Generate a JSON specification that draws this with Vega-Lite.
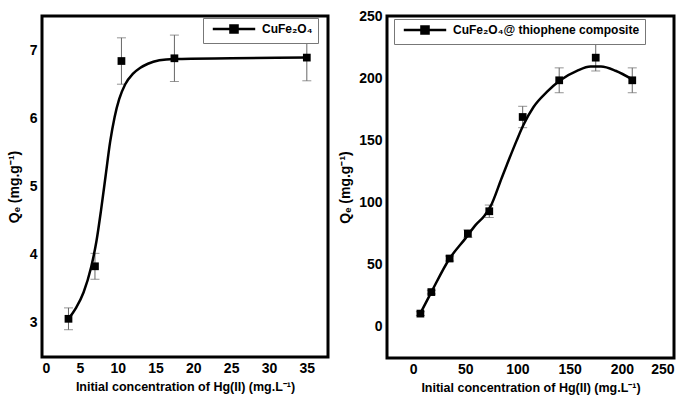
{
  "$schema": "https://vega.github.io/schema/vega-lite/v6.json",
  "background": "white",
  "padding": {"left": 5, "top": 7, "right": 12, "bottom": 4},
  "config": {
    "view": {"stroke": "black", "strokeWidth": 3},
    "font": "Liberation Sans",
    "axis": {
      "grid": false, "domain": false, "ticks": false,
      "labelFont": "Liberation Sans", "labelFontWeight": "bold", "labelFontSize": 14, "labelColor": "black",
      "titleFont": "Liberation Sans", "titleFontWeight": "bold", "titleColor": "black"
    },
    "legend": {
      "labelFont": "Liberation Sans", "labelFontWeight": "bold", "labelFontSize": 12, "labelColor": "black", "labelLimit": 0,
      "strokeColor": "#777", "strokeWidth": 1, "padding": 5, "fillColor": "white",
      "symbolType": "M-6,0H6M-1,-1H1V1H-1Z", "symbolSize": 50,
      "symbolFillColor": "black", "symbolStrokeColor": "black", "symbolStrokeWidth": 2.5,
      "symbolOffset": 20, "labelOffset": 22, "orient": "none"
    }
  },
  "datasets": {
    "ptsL": [
      {"x": 3.5, "y": 3.06, "err": 0.16, "series": "CuFe₂O₄"},
      {"x": 7, "y": 3.83, "err": 0.19, "series": "CuFe₂O₄"},
      {"x": 10.5, "y": 6.84, "err": 0.34, "series": "CuFe₂O₄"},
      {"x": 17.5, "y": 6.88, "err": 0.34, "series": "CuFe₂O₄"},
      {"x": 35, "y": 6.89, "err": 0.34, "series": "CuFe₂O₄"}
    ],
    "curveL": [
      {"x": 3.5, "y": 3.06}, {"x": 4.5, "y": 3.22}, {"x": 5.5, "y": 3.45}, {"x": 6.5, "y": 3.82},
      {"x": 7.2, "y": 4.2}, {"x": 7.8, "y": 4.65}, {"x": 8.4, "y": 5.15}, {"x": 9.0, "y": 5.65},
      {"x": 9.6, "y": 6.02}, {"x": 10.2, "y": 6.28}, {"x": 11, "y": 6.5}, {"x": 12, "y": 6.65},
      {"x": 13, "y": 6.74}, {"x": 14, "y": 6.8}, {"x": 15.5, "y": 6.85}, {"x": 17.5, "y": 6.87},
      {"x": 25, "y": 6.88}, {"x": 35, "y": 6.89}
    ],
    "ptsR": [
      {"x": 7, "y": 10.7, "err": 1.5, "series": "CuFe₂O₄@ thiophene composite"},
      {"x": 17.5, "y": 28, "err": 1.5, "series": "CuFe₂O₄@ thiophene composite"},
      {"x": 35, "y": 55, "err": 2, "series": "CuFe₂O₄@ thiophene composite"},
      {"x": 52.5, "y": 75, "err": 3, "series": "CuFe₂O₄@ thiophene composite"},
      {"x": 73, "y": 93, "err": 5, "series": "CuFe₂O₄@ thiophene composite"},
      {"x": 105, "y": 168.8, "err": 8.6, "series": "CuFe₂O₄@ thiophene composite"},
      {"x": 140, "y": 198.3, "err": 10, "series": "CuFe₂O₄@ thiophene composite"},
      {"x": 175, "y": 216.5, "err": 10.7, "series": "CuFe₂O₄@ thiophene composite"},
      {"x": 210, "y": 198.3, "err": 10, "series": "CuFe₂O₄@ thiophene composite"}
    ],
    "curveR": [
      {"x": 7, "y": 11}, {"x": 17.5, "y": 28}, {"x": 35, "y": 55}, {"x": 50, "y": 71},
      {"x": 60, "y": 82}, {"x": 68, "y": 89}, {"x": 74, "y": 96.5}, {"x": 85, "y": 120},
      {"x": 89.7, "y": 130}, {"x": 99.3, "y": 150}, {"x": 105.8, "y": 162.5}, {"x": 115.4, "y": 176.8},
      {"x": 128.2, "y": 188.9}, {"x": 141, "y": 198.3}, {"x": 157, "y": 205.8}, {"x": 170, "y": 209.3},
      {"x": 180, "y": 209.3}, {"x": 194, "y": 206}, {"x": 210, "y": 199}
    ]
  },
  "resolve": {"scale": {"color": "independent"}, "legend": {"color": "independent"}},
  "spacing": 7,
  "hconcat": [
    {
      "width": 286, "height": 341,
      "layer": [
        {
          "data": {"name": "ptsL"},
          "mark": {"type": "errorbar", "ticks": {"size": 9, "color": "#666"}, "color": "#666", "thickness": 1},
          "encoding": {
            "x": {"field": "x", "type": "quantitative", "title": "Initial concentration of Hg(II)  (mg.L⁻¹)"},
            "y": {"field": "y", "type": "quantitative", "title": "Qₑ (mg.g⁻¹)"},
            "yError": {"field": "err"}
          }
        },
        {
          "data": {"name": "curveL"},
          "mark": {"type": "line", "interpolate": "monotone", "color": "black", "strokeWidth": 2.5},
          "encoding": {
            "x": {"field": "x", "type": "quantitative", "title": "Initial concentration of Hg(II)  (mg.L⁻¹)"},
            "y": {"field": "y", "type": "quantitative", "title": "Qₑ (mg.g⁻¹)"}
          }
        },
        {
          "data": {"name": "ptsL"},
          "mark": {"type": "point", "shape": "square", "filled": true, "opacity": 1, "size": 60, "color": "black"},
          "encoding": {
            "x": {"field": "x", "type": "quantitative", "title": "Initial concentration of Hg(II)  (mg.L⁻¹)",
              "scale": {"domain": [0, 37.8], "nice": false, "zero": false},
              "axis": {"values": [0, 5, 10, 15, 20, 25, 30, 35], "format": "d", "titleFontSize": 12.5, "labelPadding": 4, "titlePadding": 5}},
            "y": {"field": "y", "type": "quantitative", "title": "Qₑ (mg.g⁻¹)",
              "scale": {"domain": [2.5, 7.5], "nice": false, "zero": false},
              "axis": {"values": [3, 4, 5, 6, 7], "format": "d", "titleFontSize": 14, "labelPadding": 5, "titlePadding": 8}},
            "color": {"field": "series", "type": "nominal", "scale": {"range": ["black"]},
              "legend": {"title": null, "legendX": 161, "legendY": 2}}
          }
        }
      ]
    },
    {
      "width": 287, "height": 342,
      "layer": [
        {
          "data": {"name": "ptsR"},
          "mark": {"type": "errorbar", "ticks": {"size": 9, "color": "#666"}, "color": "#666", "thickness": 1},
          "encoding": {
            "x": {"field": "x", "type": "quantitative", "title": "Initial concentration of Hg(II)  (mg.L⁻¹)"},
            "y": {"field": "y", "type": "quantitative", "title": "Qₑ (mg.g⁻¹)"},
            "yError": {"field": "err"}
          }
        },
        {
          "data": {"name": "curveR"},
          "mark": {"type": "line", "interpolate": "monotone", "color": "black", "strokeWidth": 2.5},
          "encoding": {
            "x": {"field": "x", "type": "quantitative", "title": "Initial concentration of Hg(II)  (mg.L⁻¹)"},
            "y": {"field": "y", "type": "quantitative", "title": "Qₑ (mg.g⁻¹)"}
          }
        },
        {
          "data": {"name": "ptsR"},
          "mark": {"type": "point", "shape": "square", "filled": true, "opacity": 1, "size": 60, "color": "black"},
          "encoding": {
            "x": {"field": "x", "type": "quantitative", "title": "Initial concentration of Hg(II)  (mg.L⁻¹)",
              "scale": {"domain": [-25, 250], "nice": false, "zero": false},
              "axis": {"values": [0, 50, 100, 150, 200, 250], "format": "d", "titleFontSize": 12.5, "labelPadding": 4, "titlePadding": 5}},
            "y": {"field": "y", "type": "quantitative", "title": "Qₑ (mg.g⁻¹)",
              "scale": {"domain": [-25, 250], "nice": false, "zero": false},
              "axis": {"values": [0, 50, 100, 150, 200, 250], "format": "d", "titleFontSize": 14, "labelPadding": 5, "titlePadding": 6}},
            "color": {"field": "series", "type": "nominal", "scale": {"range": ["black"]},
              "legend": {"title": null, "legendX": 7, "legendY": 3}}
          }
        }
      ]
    }
  ]
}
